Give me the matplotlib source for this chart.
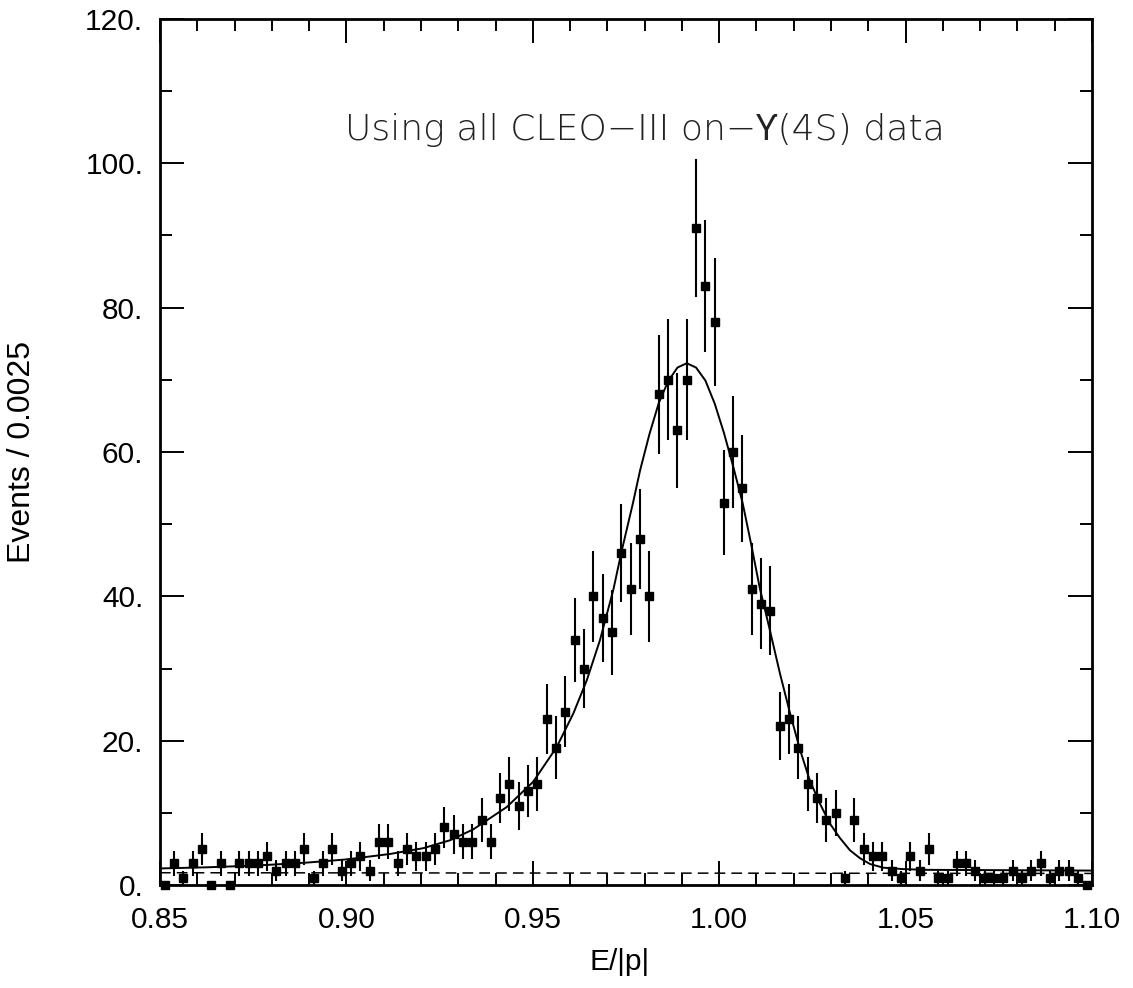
import numpy as np
import matplotlib
matplotlib.use('Agg')
import matplotlib.pyplot as plt
import matplotlib.font_manager as fm
from matplotlib.ticker import MultipleLocator

# histogram: 100 bins of 0.0025 between 0.85 and 1.10
bin_lo = 0.85
bin_w = 0.0025
counts = [0, 3, 1, 3, 5, 0, 3, 0, 3, 3, 3, 4, 2, 3, 3, 5, 1, 3, 5, 2,
          3, 4, 2, 6, 6, 3, 5, 4, 4, 5, 8, 7, 6, 6, 9, 6, 12, 14, 11, 13,
          14, 23, 19, 24, 34, 30, 40, 37, 35, 46, 41, 48, 40, 68, 70, 63, 70, 91, 83, 78,
          53, 60, 55, 41, 39, 38, 22, 23, 19, 14, 12, 9, 10, 1, 9, 5, 4, 4, 2, 1,
          4, 2, 5, 1, 1, 3, 3, 2, 1, 1, 1, 2, 1, 2, 3, 1, 2, 2, 1, 0]

# fit curve
fit_x = [0.8505, 0.8625, 0.8759, 0.8893, 0.9001, 0.9117, 0.9206, 0.9278, 0.9340,
         0.9430, 0.9501, 0.9564, 0.9609, 0.9645, 0.9680, 0.9716, 0.9738, 0.9769,
         0.9788, 0.9813, 0.9838, 0.9863, 0.9888, 0.9913, 0.9938, 0.9963, 0.9988,
         1.0013, 1.0038, 1.0063, 1.0087, 1.0109, 1.0136, 1.0163, 1.0190, 1.0217,
         1.0243, 1.0270, 1.0297, 1.0324, 1.0351, 1.0378, 1.0405, 1.0440, 1.0494,
         1.0557, 1.0995]
fit_y = [2.3, 2.45, 2.7, 3.1, 3.55, 4.3, 5.1, 6.2, 7.7,
         10.8, 14.3, 19.1, 23.8, 28.4, 33.9, 40.9, 46.2, 53.0,
         57.5, 62.5, 66.8, 69.8, 71.7, 72.3, 71.7, 69.9, 66.7,
         62.6, 57.9, 52.9, 46.9, 41.1, 35.3, 29.3, 23.8, 18.7,
         14.5, 11.3, 8.5, 6.5, 4.8, 3.7, 2.9, 2.4, 2.2,
         2.1, 2.0]

# background (dashed)
bkg_x = [0.85, 1.10]
bkg_y = [1.7, 1.6]

xticks = [0.85, 0.90, 0.95, 1.00, 1.05, 1.10]
xticklabels = ['0.85', '0.90', '0.95', '1.00', '1.05', '1.10']
yticks = [0, 20, 40, 60, 80, 100, 120]
yticklabels = ['0.', '20.', '40.', '60.', '80.', '100.', '120.']

# the labels in the picture are tall and narrow -> use a narrow face if there is one
names = {f.name for f in fm.fontManager.ttflist}
if 'Liberation Sans Narrow' in names:
    lab_font, lab_size = 'Liberation Sans Narrow', 24
else:
    lab_font, lab_size = 'Liberation Sans', 21.5

plt.rcParams['font.family'] = [lab_font, 'DejaVu Sans']

fig = plt.figure(figsize=(11.33, 9.88), dpi=100)
ax = fig.add_axes([160 / 1133, 1 - 885 / 988, 932 / 1133, 866 / 988])

n = np.array(counts, dtype=float)
xc = bin_lo + bin_w * (np.arange(len(n)) + 0.5)
ax.errorbar(xc, n, yerr=np.sqrt(n), fmt='s', color='black', ms=5.5,
            elinewidth=1.5, capsize=0, clip_on=False, zorder=3)
ax.plot(fit_x, fit_y, color='black', lw=1.4, zorder=2)
ax.plot(bkg_x, bkg_y, color='black', lw=1.1, ls=(0, (7, 4)), zorder=2)

ax.set_xlim(0.85, 1.10)
ax.set_ylim(0, 120)
ax.set_xticks(xticks, xticklabels)
ax.set_yticks(yticks, yticklabels)
ax.xaxis.set_minor_locator(MultipleLocator(0.01))
ax.yaxis.set_minor_locator(MultipleLocator(10))
ax.tick_params(which='both', direction='in', top=True, right=True, width=1.4)
ax.tick_params(which='major', length=17)
ax.tick_params(which='minor', length=8.5)
ax.tick_params(axis='x', labelsize=lab_size, pad=15)
ax.tick_params(axis='y', labelsize=lab_size, pad=12)
for sp in ax.spines.values():
    sp.set_linewidth(2)

fig.text(22 / 1133, 1 - 452 / 988, 'Events / 0.0025', rotation=90,
         ha='center', va='center', fontsize=23, family=['Liberation Sans'])
fig.text(620 / 1133, 1 - 962 / 988, 'E/|p|', ha='center', va='center',
         fontsize=lab_size)
# thin face for the title; Noto Sans supplies the upsilon-hook sign
fig.text(645 / 1133, 1 - 130 / 988, 'Using all CLEO\u2212III on\u2212\u03d2(4S) data',
         ha='center', va='center', fontsize=26, color='#222222',
         family=['DejaVu Sans', 'Noto Sans'], fontweight=200)

plt.savefig('out.png', dpi=100)
